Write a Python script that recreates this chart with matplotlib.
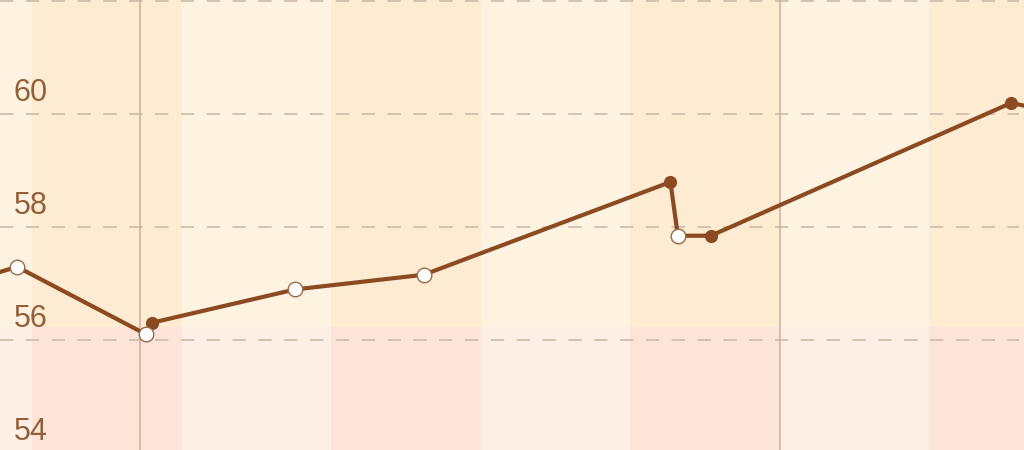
import numpy as np
import matplotlib.pyplot as plt

# days along x, weight-like values along y
days = [-0.5, -0.10, 0.76, 0.80, 1.76, 2.62, 4.27, 4.32, 4.54, 6.55, 7.0]
values = [56.98, 57.30, 56.11, 56.31, 56.90, 57.16, 58.80, 57.85, 57.85, 60.20, 59.94]
filled = [True, False, False, True, False, False, True, False, True, True, True]

yticks = [54, 56, 58, 60, 62]
tick_labels = ["54", "56", "58", "60"]
threshold = 56.24
band_edges = [-1, 0, 1, 2, 3, 4, 5, 6, 7]
marker_lines = [0.72, 5.0]

line_col = "#8c4a22"
text_col = "#93603a"

fig = plt.figure(figsize=(10.24, 4.5), dpi=100)
ax = fig.add_axes([0, 0, 1, 1])
ax.set_xlim(-0.214, 6.635)
ax.set_ylim(54.06, 62.02)

# alternating day bands, upper (normal) and lower (pink) zone
for i in range(len(band_edges) - 1):
    a, b = band_edges[i], band_edges[i + 1]
    dark = (i % 2 == 1)
    top_c = "#fdebd2" if dark else "#fef3e1"
    bot_c = "#fce4d8" if dark else "#fdefe6"
    ax.fill_between([a, b], threshold, 62.02, color=top_c, lw=0, zorder=0)
    ax.fill_between([a, b], 54.06, threshold, color=bot_c, lw=0, zorder=0)

for y in yticks:
    ax.plot([-0.214, 6.6], [y, y], ls=(0, (8, 7.5)), color="#cdbaa8", lw=1.2, zorder=1)

for x in marker_lines:
    ax.axvline(x, color="#cfae94", lw=1.1, zorder=1)

for t in tick_labels:
    ax.text(-0.122, float(t) + 0.38, t, fontsize=22, color=text_col,
            family="Liberation Sans", ha="left", va="center", zorder=2)

ax.plot(days, values, color=line_col, lw=3, zorder=3, solid_joinstyle="round")
d = np.array(days)
v = np.array(values)
f = np.array(filled)
ax.scatter(d[f], v[f], s=90, color=line_col, zorder=4, linewidths=0)
ax.scatter(d[~f], v[~f], s=110, facecolor="white", edgecolor="#9a6a4a", linewidths=1, zorder=4)

ax.axis("off")
fig.savefig("out.png", dpi=100)
